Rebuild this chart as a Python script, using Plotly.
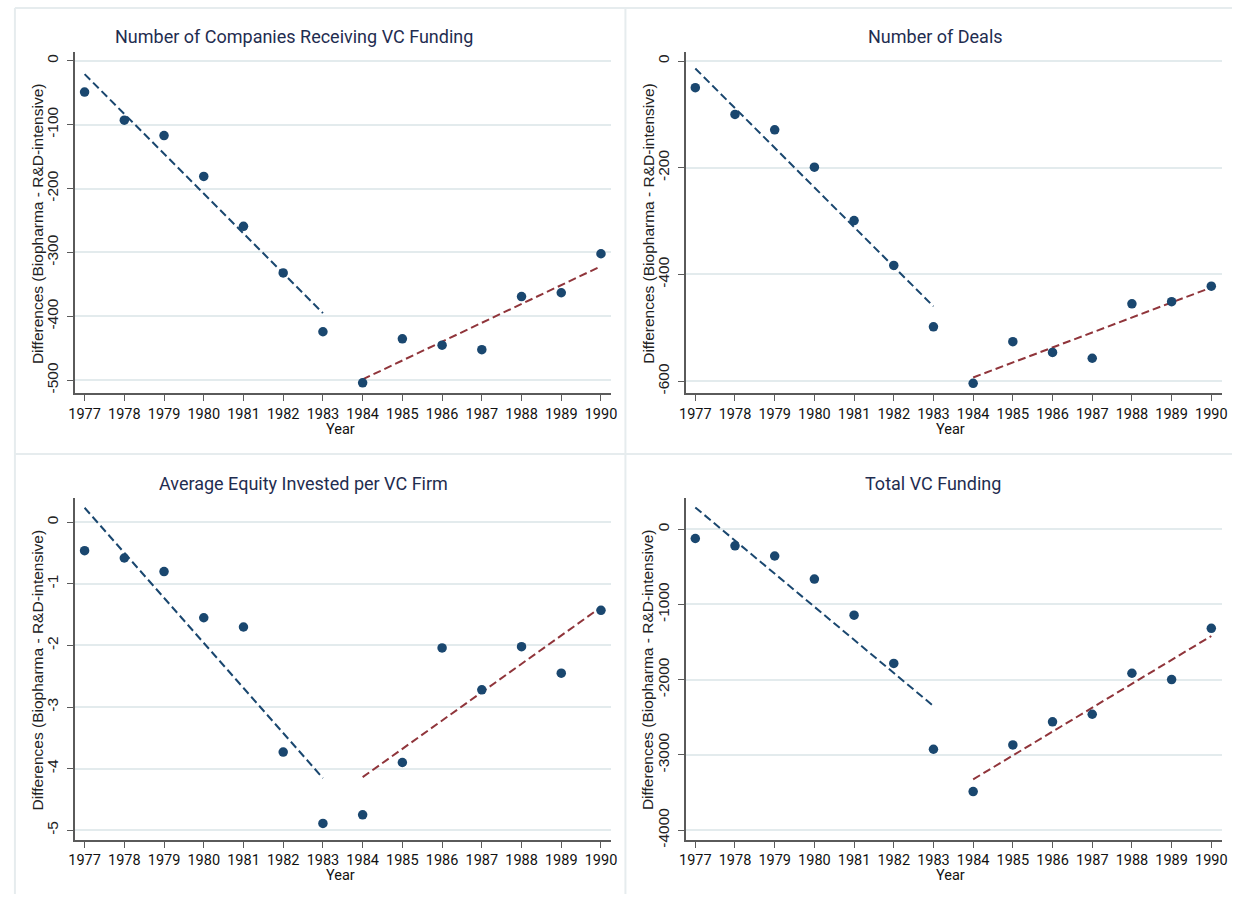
import numpy as np
import plotly.graph_objects as go

# Year-by-year differences between biopharma and R&D-intensive industries
years = list(range(1977, 1991))
companies = [-49, -93, -117, -181, -259, -332, -424, -504, -435, -445, -452, -369, -363, -302]
deals = [-50, -100, -129, -199, -299, -383, -498, -604, -526, -546, -557, -455, -451, -422]
avg_equity = [-0.46, -0.58, -0.80, -1.55, -1.70, -3.73, -4.89, -4.75, -3.90, -2.04, -2.72, -2.02, -2.45, -1.43]
total_funding = [-123, -220, -356, -663, -1142, -1783, -2924, -3486, -2867, -2560, -2459, -1914, -1998, -1317]

titles = [
    "Number of Companies Receiving VC Funding",
    "Number of Deals",
    "Average Equity Invested per VC Firm",
    "Total VC Funding",
]
y_ticks = [
    [0, -100, -200, -300, -400, -500],
    [0, -200, -400, -600],
    [0, -1, -2, -3, -4, -5],
    [0, -1000, -2000, -3000, -4000],
]
y_ranges = [[-520.6, 14.4], [-623, 17.8], [-5.155, 0.397], [-4127, 417]]
series = [companies, deals, avg_equity, total_funding]
break_year = 1983  # last year of the first fitted segment

W, H = 1238, 902
TITLE_FONT = "Roboto, Liberation Sans, Arial, sans-serif"
REGULAR = "Liberation Sans, Arial, sans-serif"
NAVY = "#1a476f"
MAROON = "#90353b"
TITLE_C = "#1f2d50"
GRID_C = "#e3ebed"
AXIS_C = "#5a5a5a"
BORDER_C = "#e6ecee"


def px_x(v):
    return v / W


def px_y(v):
    return 1 - v / H


# plot-area pixel boxes: (left, right, top, bottom)
boxes = [
    (68.9, 610.6, 52.0, 397.0),
    (686.1, 1227.4, 52.0, 397.0),
    (68.9, 610.6, 502.3, 847.3),
    (686.1, 1227.4, 502.3, 847.3),
]
title_pos = [(290.5, 37.0), (938.0, 37.0), (300.0, 487.5), (936.0, 487.5)]

fig = go.Figure()
layout = dict(
    width=W, height=H, margin=dict(l=0, r=0, t=0, b=0),
    paper_bgcolor="white", plot_bgcolor="white", showlegend=False,
)
annotations = []
shapes = []

yrs = np.array(years)
for i, (vals, title, ticks, yr) in enumerate(zip(series, titles, y_ticks, y_ranges)):
    n = "" if i == 0 else str(i + 1)
    xa, ya = "x" + n, "y" + n
    vals_a = np.array(vals, dtype=float)

    # fitted lines before and after the break
    for mask, col in [(yrs <= break_year, NAVY), (yrs > break_year, MAROON)]:
        xs = yrs[mask]
        b, a = np.polyfit(xs, vals_a[mask], 1)
        ends = np.array([xs.min(), xs.max()])
        fig.add_trace(go.Scatter(
            x=ends, y=a + b * ends, mode="lines", xaxis=xa, yaxis=ya,
            line=dict(color=col, width=2, dash="8px,4px"), hoverinfo="skip",
        ))

    fig.add_trace(go.Scatter(
        x=years, y=vals, mode="markers", xaxis=xa, yaxis=ya,
        marker=dict(color=NAVY, size=9.5, line=dict(width=0)),
    ))

    l, r, t, btm = boxes[i]
    layout["xaxis" + n] = dict(
        domain=[px_x(l), px_x(r)], anchor=ya, range=[1976.763, 1990.257],
        tickvals=years, ticktext=[str(y) for y in years],
        ticks="outside", ticklen=6, tickwidth=1.3, tickcolor=AXIS_C,
        showline=True, linecolor=AXIS_C, linewidth=1.5,
        showgrid=False, zeroline=False,
        tickfont=dict(family=TITLE_FONT, size=14.5, color="#111"),
    )
    layout["yaxis" + n] = dict(
        domain=[px_y(btm), px_y(t)], anchor=xa, range=yr,
        tickvals=ticks, ticktext=[str(v) for v in ticks], tickangle=-90,
        ticks="outside", ticklen=6, tickwidth=1.3, tickcolor=AXIS_C,
        showline=True, linecolor=AXIS_C, linewidth=1.5,
        showgrid=True, gridcolor=GRID_C, gridwidth=1.5, zeroline=False,
        ticklabelstandoff=3,
        tickfont=dict(family=REGULAR, size=15.5, color="#222"),
    )

    tx, ty = title_pos[i]
    annotations.append(dict(
        text=title, x=px_x(tx), y=px_y(ty), xref="paper", yref="paper",
        showarrow=False, xanchor="center", yanchor="middle",
        font=dict(family=TITLE_FONT, size=18, color=TITLE_C),
    ))
    annotations.append(dict(
        text="Year", x=px_x((l + r) / 2 - 3), y=px_y(btm + 36), xref="paper", yref="paper",
        showarrow=False, xanchor="center", yanchor="middle",
        font=dict(family=TITLE_FONT, size=14.5, color="#111"),
    ))
    annotations.append(dict(
        text="Differences (Biopharma - R&D-intensive)", textangle=-90,
        x=px_x(l - 38), y=px_y((t + btm) / 2 + 1), xref="paper", yref="paper",
        showarrow=False, xanchor="center", yanchor="middle",
        font=dict(family=REGULAR, size=15.5, color="#222"),
    ))

# light frames around the four panels
for x0, y0, x1, y1 in [(8, 8, W, 8), (8, 8, 8, H), (625, 8, 625, H), (8, 458, W, 458)]:
    shapes.append(dict(type="line", xref="paper", yref="paper",
                       x0=px_x(x0), y0=px_y(y0), x1=px_x(x1), y1=px_y(y1),
                       line=dict(color=BORDER_C, width=2), layer="below"))

layout["annotations"] = annotations
layout["shapes"] = shapes
fig.update_layout(**layout)
fig.write_html("out.html")
